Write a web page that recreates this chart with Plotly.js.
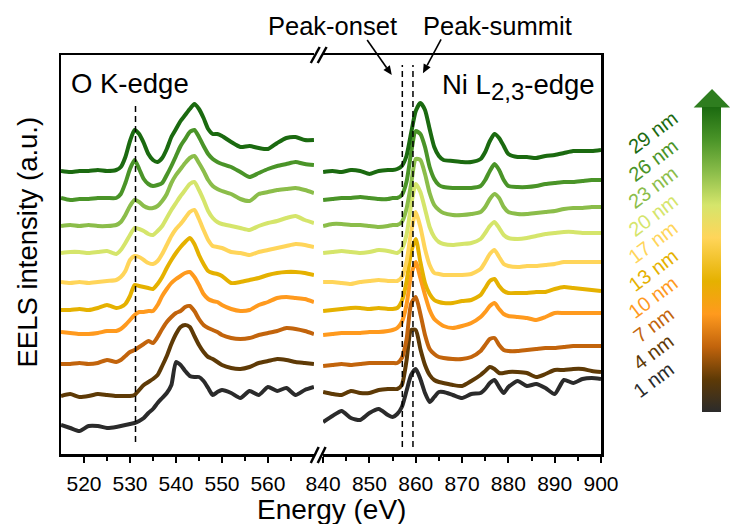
<!DOCTYPE html>
<html>
<head>
<meta charset="utf-8">
<script src="https://cdn.plot.ly/plotly-3.0.1.min.js"></script>
<style>
  html, body { margin: 0; padding: 0; background: #ffffff; }
  #chart { width: 733px; height: 524px; }
</style>
</head>
<body>
<div id="chart"></div>
<script>
// ---- Energy grids (eV) ----
const oEnergy = [515, 517, 519, 521, 523, 525, 527, 528, 529, 530, 531, 532, 533, 534, 535, 536, 537, 538, 539, 540,
                 541, 542, 543, 544, 545, 546, 547, 548, 549, 550, 552, 554, 556, 558, 560, 562, 564, 566, 568, 570];
const niEnergy = [840, 842, 844, 846, 848, 850, 852, 854, 855, 856, 857, 858, 859, 860, 861, 862, 863, 864, 865, 866,
                  868, 870, 872, 874, 875, 876, 877, 878, 879, 880, 882, 884, 886, 888, 890, 892, 894, 896, 898, 900];

// ---- Film thickness (nm) and vertical stacking offset of each spectrum (a.u.) ----
const thickness = [1, 4, 7, 10, 13, 17, 20, 23, 26, 29];
const offsets   = [29, 58, 90, 121, 144, 172, 201, 228, 255, 283];

// ---- O K-edge intensities (a.u., above each offset) ----
const o1  = [0, -3, -6, -1, -1, -3, -2, -1, 0, 1, 2, 4, 7, 12, 16, 22, 27, 32, 40, 63, 60, 54, 49, 48, 48, 44, 37, 30, 33, 35, 32, 27, 34, 30, 38, 34, 37, 30, 35, 38];
const o4  = [0, 2, -1, 0, 2, 1, 0, 0, 0, 0, 1, 6, 11, 14, 17, 21, 30, 40, 52, 62, 69, 71, 69, 60, 51, 44, 39, 37, 34, 31, 28, 27, 29, 33, 35, 37, 36, 34, 33, 32];
const o7  = [0, 0, 1, 0, 1, 4, 2, 4, 8, 12, 14, 17, 20, 23, 21, 27, 35, 42, 47, 51, 53, 57, 58, 53, 45, 39, 36, 34, 32, 29, 26, 25, 26, 29, 31, 33, 36, 35, 33, 30];
const o10 = [1, 0, -1, -1, 0, 2, 2, 4, 8, 13, 18, 21, 21, 22, 22, 28, 37, 44, 50, 54, 57, 60, 61, 56, 48, 39, 34, 32, 31, 28, 24, 22, 23, 28, 31, 35, 36, 35, 34, 31];
const o13 = [0, 0, 1, 0, 2, 5, 2, 3, 6, 14, 25, 24, 23, 22, 21, 26, 33, 42, 50, 57, 63, 68, 72, 66, 55, 46, 39, 37, 36, 34, 27, 28, 30, 32, 35, 37, 38, 38, 37, 35];
const o17 = [0, -1, 0, -1, 0, 1, 2, 5, 11, 22, 26, 25, 22, 19, 18, 21, 28, 37, 46, 53, 58, 64, 70, 72, 63, 52, 42, 36, 35, 34, 30, 29, 27, 30, 32, 34, 36, 38, 37, 35];
const o20 = [0, 1, 1, 0, 1, 2, -1, 3, 10, 18, 25, 24, 22, 19, 18, 22, 27, 35, 43, 50, 57, 63, 69, 71, 63, 53, 42, 35, 31, 29, 27, 25, 23, 27, 30, 32, 35, 37, 33, 30];
const o23 = [0, 1, 0, 1, 0, 0, 1, 4, 11, 20, 26, 24, 20, 18, 18, 20, 25, 32, 43, 51, 57, 63, 68, 70, 63, 55, 46, 40, 37, 35, 32, 27, 25, 32, 34, 36, 37, 38, 36, 33];
const o26 = [1, -1, 0, 0, 1, 1, 1, 5, 16, 30, 39, 30, 20, 15, 13, 14, 16, 24, 33, 43, 53, 60, 67, 69, 62, 53, 45, 40, 37, 35, 32, 27, 22, 26, 30, 33, 35, 37, 35, 34];
const o29 = [0, -1, 0, 0, 1, 0, 1, 4, 14, 30, 41, 37, 28, 17, 11, 9, 13, 22, 34, 42, 50, 56, 62, 67, 62, 53, 42, 37, 37, 35, 29, 24, 25, 23, 22, 28, 33, 34, 31, 31];

// ---- Ni L2,3-edge intensities (a.u., above each offset) ----
const ni1  = [3, 9, 14, 7, 5, 12, 16, 10, 8, 11, 18, 34, 50, 56, 46, 32, 23, 28, 33, 33, 30, 27, 31, 32, 36, 42, 45, 38, 32, 38, 44, 39, 41, 37, 31, 45, 42, 46, 47, 46];
const ni4  = [4, 2, 1, 5, 3, 3, 6, 7, 7, 7, 11, 35, 66, 66, 47, 31, 21, 16, 14, 13, 11, 10, 15, 21, 25, 29, 27, 23, 23, 24, 24, 23, 19, 22, 26, 26, 27, 27, 25, 24];
const ni7  = [-2, -1, 0, -1, 0, 1, 1, 1, 1, 1, 6, 24, 60, 67, 50, 29, 15, 10, 7, 6, 5, 5, 7, 13, 19, 25, 26, 19, 14, 13, 13, 14, 15, 16, 16, 17, 18, 18, 18, 18];
const ni10 = [-2, -1, 0, 0, 0, 1, 1, 2, 3, 5, 11, 28, 58, 71, 55, 38, 23, 14, 10, 7, 5, 7, 10, 16, 21, 27, 30, 24, 19, 17, 16, 15, 13, 16, 20, 20, 20, 20, 20, 20];
const ni13 = [-1, 0, 1, 2, 2, 1, 2, 1, 1, 2, 9, 28, 58, 71, 48, 27, 16, 10, 8, 7, 7, 9, 10, 15, 22, 29, 31, 24, 19, 17, 17, 17, 18, 18, 21, 23, 22, 21, 20, 19];
const ni17 = [0, 0, -1, -2, 0, 1, 2, 1, 1, 1, 5, 20, 50, 70, 55, 33, 17, 9, 8, 7, 7, 7, 8, 13, 20, 28, 32, 25, 18, 16, 15, 16, 16, 17, 18, 20, 20, 20, 20, 20];
const ni20 = [0, 1, 2, 1, 0, 1, 3, 2, 1, 0, 4, 18, 48, 69, 61, 44, 26, 16, 11, 9, 8, 9, 10, 14, 20, 27, 31, 25, 18, 15, 14, 15, 17, 19, 20, 21, 21, 20, 20, 20];
const ni23 = [0, 2, 2, 1, 1, 0, -1, 0, 1, 1, 4, 17, 42, 67, 66, 52, 33, 21, 16, 13, 11, 11, 12, 14, 19, 27, 32, 28, 19, 14, 12, 12, 13, 14, 15, 17, 18, 18, 19, 19];
const ni26 = [-1, 0, 1, 1, 2, 1, 0, 0, 1, 1, 4, 17, 46, 68, 65, 52, 32, 20, 14, 12, 11, 11, 11, 13, 19, 28, 35, 29, 19, 13, 12, 12, 13, 15, 16, 17, 17, 18, 19, 19];
const ni29 = [-1, 0, -1, 1, 0, -3, 0, 1, 1, 2, 5, 15, 38, 60, 68, 61, 42, 24, 15, 11, 10, 9, 9, 12, 19, 30, 37, 33, 25, 17, 14, 14, 13, 15, 16, 18, 20, 20, 20, 21];

const oSeries  = [o1, o4, o7, o10, o13, o17, o20, o23, o26, o29];
const niSeries = [ni1, ni4, ni7, ni10, ni13, ni17, ni20, ni23, ni26, ni29];

// ---- Reference energies (eV) of the dashed guide lines ----
const oEdgeOnset = 531.2;
const niPeakOnset = 857.1;
const niPeakSummit = 859.4;

// ---- Axis ticks ----
const oTicks  = [520, 530, 540, 550, 560];
const oMinor  = [525, 535, 545, 555, 565];
const niTicks = [840, 850, 860, 870, 880, 890, 900];
const niMinor = [845, 855, 865, 875, 885, 895];

// ---- Colours, thinnest to thickest ----
const colors = ['#2b2b2b', '#5e3a06', '#c2640c', '#ff9a1e', '#e5b100', '#ffd55a', '#d5e56b', '#8bbd4a', '#4a9428', '#1b6a10'];

const FONT = 'Liberation Sans, Arial, Helvetica, sans-serif';

// Plot-area geometry (pixels) used to place decorations in paper units
const L = 61, R = 609, T = 55, B = 454;
const px = x => (x - L) / (R - L);
const py = y => (B - y) / (B - T);

const traces = [];
thickness.forEach((t, i) => {
  const line = { color: colors[i], width: 4, shape: 'spline', smoothing: 0.6 };
  traces.push({
    type: 'scatter', mode: 'lines', name: t + ' nm', xaxis: 'x', yaxis: 'y',
    x: oEnergy, y: oSeries[i].map(v => v + offsets[i]), line, hoverinfo: 'skip', showlegend: false
  });
  traces.push({
    type: 'scatter', mode: 'lines', name: t + ' nm', xaxis: 'x2', yaxis: 'y2',
    x: niEnergy, y: niSeries[i].map(v => v + offsets[i]), line, hoverinfo: 'skip', showlegend: false
  });
});

// Thickness colour scale, shown as a vertical bar
const tMin = thickness[0], tMax = thickness[thickness.length - 1];
const colorscale = thickness.map((t, i) => [(t - tMin) / (tMax - tMin), colors[i]]);
traces.push({
  type: 'scatter', mode: 'markers', xaxis: 'x3', yaxis: 'y3',
  x: thickness, y: thickness, hoverinfo: 'skip', showlegend: false,
  marker: {
    color: thickness, colorscale, cmin: tMin, cmax: tMax, opacity: 0, size: 1,
    showscale: true,
    colorbar: {
      x: px(712), xanchor: 'left', y: py(259.5), yanchor: 'middle',
      len: 305, lenmode: 'pixels', thickness: 19, thicknessmode: 'pixels',
      outlinewidth: 0, showticklabels: false, ticks: '', xpad: 0, ypad: 0
    }
  }
});

const axisBase = {
  showgrid: false, zeroline: false, showline: true, linewidth: 2.5, linecolor: '#000',
  fixedrange: true
};
const xBase = Object.assign({}, axisBase, {
  mirror: true, ticks: 'outside', ticklen: 6, tickwidth: 2, tickcolor: '#000',
  tickfont: { family: FONT, size: 21, color: '#000' }, tickmode: 'array', ticklabelstandoff: 3
});
const minorBase = { ticks: 'outside', ticklen: 4, tickwidth: 2, tickcolor: '#000', tickmode: 'array' };

const shapes = [];
// dashed guide lines
const dashLine = { type: 'line', line: { color: '#000', width: 1.5, dash: '6px,4px' }, layer: 'above' };
shapes.push(Object.assign({}, dashLine, { xref: 'x',  yref: 'y',  x0: oEdgeOnset,   x1: oEdgeOnset,   y0: 12, y1: 352 }));
shapes.push(Object.assign({}, dashLine, { xref: 'x2', yref: 'y2', x0: niPeakOnset,  x1: niPeakOnset,  y0: 7, y1: 389 }));
shapes.push(Object.assign({}, dashLine, { xref: 'x2', yref: 'y2', x0: niPeakSummit, x1: niPeakSummit, y0: 7, y1: 389 }));
// axis break marks
const slash = (x0, y0, x1, y1) => ({
  type: 'line', xref: 'paper', yref: 'paper', x0: px(x0), y0: py(y0), x1: px(x1), y1: py(y1),
  line: { color: '#000', width: 2.5 }, layer: 'above'
});
shapes.push(slash(314.5, 463, 322.5, 447), slash(321.5, 463, 329.5, 447));
shapes.push(slash(314.5, 63, 323.5, 47), slash(321.5, 63, 330.5, 47));
// arrow head on top of the colour bar
shapes.push({
  type: 'path', xref: 'paper', yref: 'paper', layer: 'above',
  path: `M ${px(703)} ${py(107.5)} L ${px(721.7)} ${py(89)} L ${px(740)} ${py(107.5)} Z`,
  fillcolor: '#2e7d1f', line: { width: 0 }
});
// pointer arrows from the peak labels to the guide lines
const pointer = (tailX, tailY, tipX, tipY) => {
  const dx = tipX - tailX, dy = tipY - tailY, n = Math.hypot(dx, dy);
  const ux = dx / n, uy = dy / n, hl = 9, hw = 4;
  const bx = tipX - ux * hl, by = tipY - uy * hl;
  shapes.push({
    type: 'line', xref: 'paper', yref: 'paper', layer: 'above',
    x0: px(tailX), y0: py(tailY), x1: px(bx), y1: py(by), line: { color: '#000', width: 1.6 }
  });
  shapes.push({
    type: 'path', xref: 'paper', yref: 'paper', layer: 'above', fillcolor: '#000', line: { width: 0 },
    path: `M ${px(tipX)} ${py(tipY)} L ${px(bx - uy * hw)} ${py(by + ux * hw)} L ${px(bx + uy * hw)} ${py(by - ux * hw)} Z`
  });
};
pointer(371.7, 40, 396.7, 75);
pointer(446.7, 39.3, 428.3, 73.3);

const annotations = [];
const txt = (text, x, y, size, extra) => Object.assign({
  text, xref: 'paper', yref: 'paper', x: px(x), y: py(y), showarrow: false,
  xanchor: 'center', yanchor: 'middle', font: { family: FONT, size, color: '#000' }
}, extra || {});
annotations.push(txt('O K-edge', 69, 83, 27.5, { xanchor: 'left' }));
annotations.push(txt('Ni L<sub><span style="font-size:24px">2,3</span></sub>-edge', 605, 87, 27.5, { xanchor: 'right' }));
annotations.push(txt('Peak-onset', 336.7, 26, 25.5));
annotations.push(txt('Peak-summit', 503.5, 26, 25.5));
annotations.push(txt('Energy (eV)', 335, 509, 28));
annotations.push(txt('EELS intensity (a.u.)', 27, 242, 27.5, { textangle: -90 }));
// thickness labels
thickness.forEach((t, i) => {
  const k = thickness.length - 1 - i;
  annotations.push(txt(t + ' nm', 662, 132 + k * 27.5, 20, {
    textangle: -37, font: { family: FONT, size: 20, color: colors[i] }
  }));
});

const layout = {
  width: 733, height: 524,
  margin: { l: L, r: 733 - R, t: T, b: 524 - B, pad: 0 },
  paper_bgcolor: '#ffffff', plot_bgcolor: 'rgba(0,0,0,0)',
  showlegend: false,
  xaxis: Object.assign({}, xBase, {
    domain: [0, px(317.7)], range: [515, 570], anchor: 'y',
    tickvals: oTicks, minor: Object.assign({}, minorBase, { tickvals: oMinor })
  }),
  xaxis2: Object.assign({}, xBase, {
    domain: [px(327), 1], range: [840, 900], anchor: 'y2',
    tickvals: niTicks, minor: Object.assign({}, minorBase, { tickvals: niMinor })
  }),
  yaxis: Object.assign({}, axisBase, {
    domain: [0, 1], range: [0, 399], anchor: 'x', showticklabels: false, ticks: ''
  }),
  yaxis2: Object.assign({}, axisBase, {
    domain: [0, 1], range: [0, 399], anchor: 'x2', side: 'right', showticklabels: false, ticks: ''
  }),
  xaxis3: { visible: false, domain: [0, 0.02], anchor: 'y3', fixedrange: true },
  yaxis3: { visible: false, domain: [0, 0.02], anchor: 'x3', fixedrange: true },
  shapes, annotations
};

Plotly.newPlot('chart', traces, layout, { displayModeBar: false, staticPlot: true });
</script>
</body>
</html>
